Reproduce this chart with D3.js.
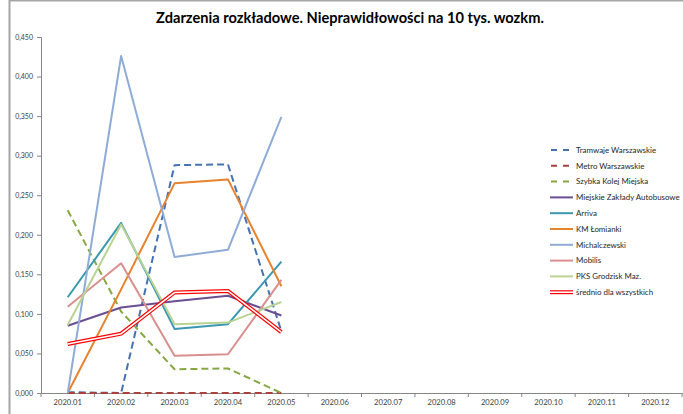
<!DOCTYPE html>
<html>
<head>
<meta charset="utf-8">
<script src="https://cdn.jsdelivr.net/npm/d3@7"></script>
<style>
  html, body { margin: 0; padding: 0; background: #fff; }
  svg { display: block; }
  text { font-family: Lato, "Open Sans", sans-serif; }
</style>
</head>
<body>
<svg id="chart" width="683" height="414"></svg>
<script>
const title = "Zdarzenia rozkładowe. Nieprawidłowości na 10 tys. wozkm.";
const categories = ["2020.01","2020.02","2020.03","2020.04","2020.05","2020.06","2020.07","2020.08","2020.09","2020.10","2020.11","2020.12"];
const yTicks = [0, 0.05, 0.10, 0.15, 0.20, 0.25, 0.30, 0.35, 0.40, 0.45];

const seriesNames = ["Tramwaje Warszawskie","Metro Warszawskie","Szybka Kolej Miejska","Miejskie Zakłady Autobusowe","Arriva","KM Łomianki","Michalczewski","Mobilis","PKS Grodzisk Maz.","średnio dla wszystkich"];
const tramwaje      = [0.001, 0.000, 0.288, 0.289, 0.078];
const metro         = [0.000, 0.000, 0.000, 0.000, 0.000];
const szybkaKolej   = [0.231, 0.103, 0.030, 0.031, 0.000];
const mza           = [0.085, 0.108, 0.116, 0.123, 0.098];
const arriva        = [0.121, 0.215, 0.081, 0.087, 0.166];
const kmLomianki    = [0.000, 0.131, 0.265, 0.270, 0.135];
const michalczewski = [0.000, 0.426, 0.172, 0.181, 0.349];
const mobilis       = [0.109, 0.164, 0.047, 0.049, 0.143];
const pksGrodzisk   = [0.086, 0.213, 0.087, 0.089, 0.115];
const srednio       = [0.062, 0.075, 0.127, 0.129, 0.077];
const seriesValues = [tramwaje, metro, szybkaKolej, mza, arriva, kmLomianki, michalczewski, mobilis, pksGrodzisk, srednio];

const styles = [
  {color:"#4572B0", dash:"7,4", type:"line"},
  {color:"#A9413F", dash:"7,4", type:"line"},
  {color:"#86A844", dash:"7,4", type:"line"},
  {color:"#6B4E94", dash:null, type:"line"},
  {color:"#3B98B2", dash:null, type:"line"},
  {color:"#E8822E", dash:null, type:"line"},
  {color:"#8FACD6", dash:null, type:"line"},
  {color:"#D8908E", dash:null, type:"line"},
  {color:"#B9D394", dash:null, type:"line"},
  {color:"#FF0000", dash:null, type:"double"}
];

const svg = d3.select("#chart");
const plot = {left: 41, right: 682, top: 37, bottom: 393};

// outer frame (partially visible)
svg.append("rect").attr("x", 9.5).attr("y", 0.5).attr("width", 700).attr("height", 500)
  .attr("fill", "none").attr("stroke", "#A6A6A6").attr("stroke-width", 2);

// title
const t = svg.append("text").attr("x", 350).attr("y", 23).attr("text-anchor", "middle")
  .attr("font-weight", "bold").attr("font-size", 14).attr("fill", "#000").text(title);
{
  const len = t.node().getComputedTextLength();
  t.attr("font-size", 14 * 388 / len);
}

const x = d3.scaleBand().domain(categories).range([plot.left, plot.right]).paddingInner(0).paddingOuter(0);
const y = d3.scaleLinear().domain([0, 0.45]).range([plot.bottom, plot.top]);

// y axis
const yAxis = svg.append("g").attr("transform", `translate(${plot.left},0)`)
  .call(d3.axisLeft(y).tickValues(yTicks).tickSize(4).tickPadding(4)
    .tickFormat(d => d3.format(".3f")(d).replace(".", ",")));
yAxis.select(".domain").attr("stroke", "#868686");
yAxis.selectAll(".tick line").attr("stroke", "#868686");
yAxis.selectAll(".tick text").attr("font-size", 7).attr("fill", "#404040");

// x axis
const xAxis = svg.append("g").attr("transform", `translate(0,${plot.bottom})`)
  .call(d3.axisBottom(x).tickSize(0).tickSizeOuter(0).tickPadding(7));
xAxis.select(".domain").attr("stroke", "#868686");
xAxis.selectAll(".tick text").attr("font-size", 7.6).attr("fill", "#404040");
const bounds = categories.map(c => x(c)).concat([x(categories[categories.length-1]) + x.bandwidth()]);
xAxis.selectAll("line.bound").data(bounds).enter().append("line").attr("class", "bound")
  .attr("x1", d => d).attr("x2", d => d).attr("y1", 0).attr("y2", 4).attr("stroke", "#868686");

// lines
const line = d3.line().x((d, i) => x(categories[i]) + x.bandwidth() / 2).y(d => y(d));
const lg = svg.append("g");
seriesValues.forEach((vals, k) => {
  const st = styles[k];
  if (st.type === "double") {
    lg.append("path").attr("d", line(vals)).attr("fill", "none").attr("stroke", st.color)
      .attr("stroke-width", 4).attr("stroke-linejoin", "miter");
    lg.append("path").attr("d", line(vals)).attr("fill", "none").attr("stroke", "#fff")
      .attr("stroke-width", 1.6).attr("stroke-linejoin", "miter");
  } else {
    lg.append("path").attr("d", line(vals)).attr("fill", "none").attr("stroke", st.color)
      .attr("stroke-width", 2).attr("stroke-dasharray", st.dash)
      .attr("stroke-linejoin", "round");
  }
});

// legend
const legY0 = 150, legStep = 15.8;
const leg = svg.append("g");
seriesNames.forEach((name, k) => {
  const st = styles[k];
  const yy = legY0 + k * legStep;
  if (st.type === "double") {
    leg.append("line").attr("x1", 550).attr("x2", 573).attr("y1", yy).attr("y2", yy)
      .attr("stroke", st.color).attr("stroke-width", 4);
    leg.append("line").attr("x1", 550).attr("x2", 573).attr("y1", yy).attr("y2", yy)
      .attr("stroke", "#fff").attr("stroke-width", 1.6);
  } else {
    leg.append("line").attr("x1", st.dash ? 551 : 550).attr("x2", 573).attr("y1", yy).attr("y2", yy)
      .attr("stroke", st.color).attr("stroke-width", 2).attr("stroke-dasharray", st.dash ? "6,6" : null);
  }
  leg.append("text").attr("x", 576).attr("y", yy).attr("dy", "0.35em")
    .attr("font-size", 7.9).attr("fill", "#262626").text(name);
});
</script>
</body>
</html>
